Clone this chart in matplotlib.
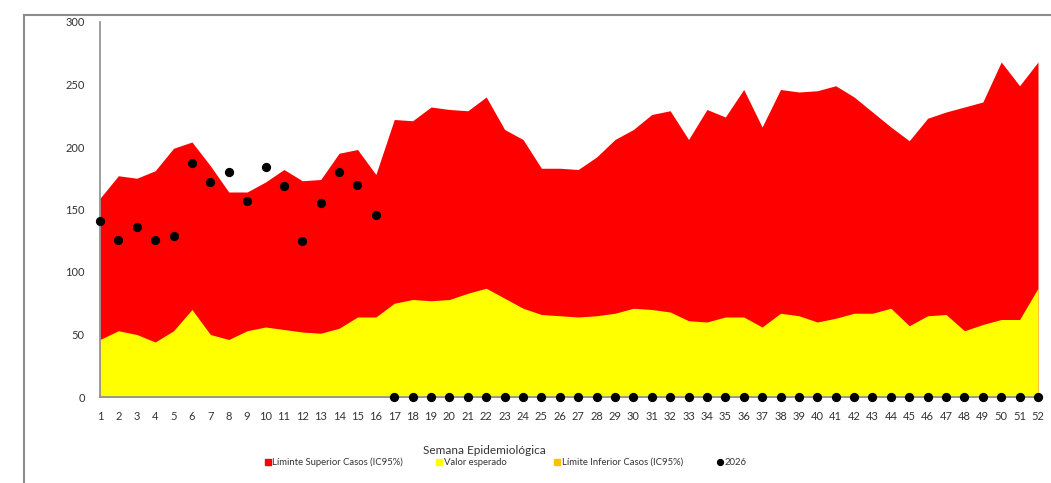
import numpy as np
import matplotlib.pyplot as plt
from matplotlib.lines import Line2D

weeks = list(range(1, 53))

upper = [159, 177, 175, 181, 199, 204, 185, 164, 164, 172, 182, 173, 174, 195, 198, 178,
         222, 221, 232, 230, 229, 240, 214, 206, 183, 183, 182, 192, 206, 214, 226, 229,
         206, 230, 224, 246, 216, 246, 244, 245, 249, 240, 228, 216, 205, 223, 228, 232,
         236, 268, 249, 268]

expected = [46, 53, 50, 44, 53, 70, 50, 46, 53, 56, 54, 52, 51, 55, 64, 64,
            75, 78, 77, 78, 83, 87, 79, 71, 66, 65, 64, 65, 67, 71, 70, 68,
            61, 60, 64, 64, 56, 67, 65, 60, 63, 67, 67, 71, 57, 65, 66, 53,
            58, 62, 62, 87]

lower = [0] * 52

cases_2026 = [141, 126, 136, 126, 129, 187, 172, 180, 157, 184, 169, 125, 155, 180, 170, 146] + [0] * 36

yticks = [0, 50, 100, 150, 200, 250, 300]

legend_labels = ['Líminte Superior Casos (IC95%)', 'Valor esperado',
                 'Límite Inferior Casos (IC95%)', '2026']

RED = '#FF0000'
YELLOW = '#FFFF00'
ORANGE = '#FFC000'
GREY = '#8C8C8C'
TXT = '#333333'

plt.rcParams['font.family'] = ['Lato', 'DejaVu Sans']

W, H = 1051, 483
fig = plt.figure(figsize=(W / 100, H / 100), dpi=100)
ax = fig.add_axes([100 / W, 1 - 397 / H, 938 / W, 375 / H])

ax.fill_between(weeks, upper, color=RED, linewidth=0)
ax.fill_between(weeks, expected, color=YELLOW, linewidth=0)
ax.fill_between(weeks, lower, color=ORANGE, linewidth=0)
ax.scatter(weeks, cases_2026, s=32, color='black', zorder=5, clip_on=False)

ax.set_xlim(1, 52)
ax.set_ylim(0, 300)
ax.set_xticks(weeks)
ax.set_xticklabels([str(w) for w in weeks], fontsize=8, color=TXT)
ax.set_yticks(yticks)
ax.set_yticklabels([str(v) for v in yticks], fontsize=8, color=TXT)
ax.tick_params(length=0, pad=10)
ax.tick_params(axis='y', pad=11)
for s in ['top', 'right']:
    ax.spines[s].set_visible(False)
for s in ['left', 'bottom']:
    ax.spines[s].set_color(GREY)
    ax.spines[s].set_linewidth(1.2)
    ax.spines[s].set_zorder(4)

# outer frame of the chart box
fy = 1 - 14.5 / H
fx = 24 / W
fig.add_artist(Line2D([fx, fx], [0, fy], transform=fig.transFigure, color=GREY, lw=1.5))
fig.add_artist(Line2D([fx, 1], [fy, fy], transform=fig.transFigure, color=GREY, lw=1.5))

fig.text(484 / W, 1 - 451 / H, 'Semana Epidemiológica', ha='center', va='center',
         fontsize=8.5, color=TXT)

# legend entries placed one by one
ly = 1 - 462 / H
entry_x = [269, 440, 558, 721]
markers = ['s', 's', 's', 'o']
mcolors = [RED, YELLOW, ORANGE, 'black']
msizes = [4.5, 4.5, 4.5, 4.2]
for px, lab, m, c, ms in zip(entry_x, legend_labels, markers, mcolors, msizes):
    fig.add_artist(Line2D([(px - 1) / W], [ly], transform=fig.transFigure, marker=m,
                          color=c, markersize=ms, linestyle='none'))
    fig.text((px + 3.5) / W, ly - 3 / H, lab, ha='left', va='baseline',
             fontsize=6.8, color=TXT)

fig.savefig('out.png', dpi=100)
